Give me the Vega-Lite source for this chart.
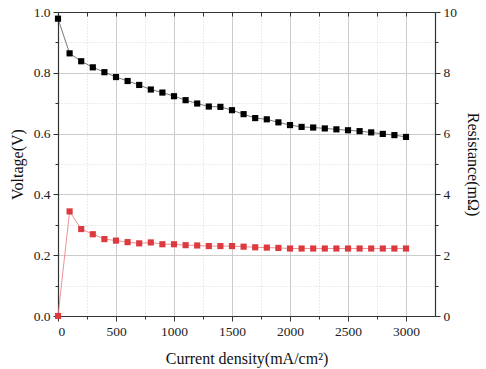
{
  "$schema": "https://vega.github.io/schema/vega-lite/v6.json",
  "width": 377,
  "height": 304,
  "autosize": {"type": "none"},
  "padding": {"left": 58, "top": 12, "right": 51, "bottom": 53},
  "background": "white",
  "config": {
    "view": {"stroke": null},
    "axis": {
      "labelFont": "Liberation Serif",
      "titleFont": "Liberation Serif",
      "labelFontSize": 13.5,
      "titleFontSize": 16,
      "titleFontWeight": "normal",
      "labelColor": "#222",
      "titleColor": "#111",
      "domainColor": "#333",
      "tickColor": "#333",
      "domainWidth": 1.2,
      "tickWidth": 1
    }
  },
  "data": {
    "values": [
      {"j": 0, "V": 0.978, "R": 0.0},
      {"j": 100, "V": 0.864, "R": 3.44},
      {"j": 200, "V": 0.838, "R": 2.86},
      {"j": 300, "V": 0.818, "R": 2.69},
      {"j": 400, "V": 0.802, "R": 2.53},
      {"j": 500, "V": 0.786, "R": 2.48},
      {"j": 600, "V": 0.773, "R": 2.43},
      {"j": 700, "V": 0.760, "R": 2.39},
      {"j": 800, "V": 0.745, "R": 2.42},
      {"j": 900, "V": 0.735, "R": 2.36},
      {"j": 1000, "V": 0.723, "R": 2.36},
      {"j": 1100, "V": 0.710, "R": 2.33},
      {"j": 1200, "V": 0.699, "R": 2.32},
      {"j": 1300, "V": 0.689, "R": 2.30},
      {"j": 1400, "V": 0.688, "R": 2.30},
      {"j": 1500, "V": 0.677, "R": 2.30},
      {"j": 1600, "V": 0.664, "R": 2.28},
      {"j": 1700, "V": 0.651, "R": 2.26},
      {"j": 1800, "V": 0.647, "R": 2.25},
      {"j": 1900, "V": 0.637, "R": 2.24},
      {"j": 2000, "V": 0.628, "R": 2.22},
      {"j": 2100, "V": 0.622, "R": 2.22},
      {"j": 2200, "V": 0.620, "R": 2.22},
      {"j": 2300, "V": 0.617, "R": 2.22},
      {"j": 2400, "V": 0.614, "R": 2.22},
      {"j": 2500, "V": 0.611, "R": 2.22},
      {"j": 2600, "V": 0.608, "R": 2.22},
      {"j": 2700, "V": 0.604, "R": 2.22},
      {"j": 2800, "V": 0.599, "R": 2.22},
      {"j": 2900, "V": 0.595, "R": 2.22},
      {"j": 3000, "V": 0.589, "R": 2.22}
    ]
  },
  "layer": [
    {
      "encoding": {
        "x": {
          "field": "j", "type": "quantitative",
          "scale": {"domain": [0, 3250], "nice": false, "zero": false},
          "axis": {
            "orient": "bottom",
            "title": "Current density(mA/cm²)",
            "titlePadding": 13,
            "values": [0, 250, 500, 750, 1000, 1250, 1500, 1750, 2000, 2250, 2500, 2750, 3000],
            "format": "d",
            "labelExpr": "datum.value % 500 === 0 ? datum.label : ''",
            "tickSize": {"condition": {"test": "datum.value % 500 === 0", "value": 5}, "value": 3},
            "grid": true,
            "gridColor": {"condition": {"test": "datum.value % 500 === 0", "value": "#cccccc"}, "value": "#d8d8d8"},
            "gridDash": {"condition": {"test": "datum.value % 500 === 0", "value": []}, "value": [1, 2]},
            "gridWidth": 1,
            "labelPadding": 3
          }
        },
        "y": {
          "field": "V", "type": "quantitative",
          "scale": {"domain": [0, 1], "nice": false},
          "axis": {
            "orient": "left",
            "title": "Voltage(V)",
            "titlePadding": 8,
            "values": [0, 0.1, 0.2, 0.3, 0.4, 0.5, 0.6, 0.7, 0.8, 0.9, 1.0],
            "format": ".1f",
            "labelExpr": "round(datum.value * 10) % 2 === 0 ? datum.label : ''",
            "tickSize": {"condition": {"test": "round(datum.value * 10) % 2 === 0", "value": 5}, "value": 3},
            "grid": true,
            "gridColor": {"condition": {"test": "round(datum.value * 10) % 2 === 0", "value": "#cccccc"}, "value": "#d8d8d8"},
            "gridDash": {"condition": {"test": "round(datum.value * 10) % 2 === 0", "value": []}, "value": [1, 2]},
            "labelPadding": 3
          }
        }
      },
      "layer": [
        {"mark": {"type": "line", "color": "#555555", "strokeWidth": 0.8}},
        {"mark": {"type": "point", "shape": "square", "filled": true, "color": "#000000", "size": 38, "opacity": 1}}
      ]
    },
    {
      "encoding": {
        "x": {
          "field": "j", "type": "quantitative",
          "scale": {"domain": [0, 3250], "nice": false, "zero": false},
          "axis": {
            "orient": "top",
            "title": null,
            "labels": false,
            "grid": false,
            "values": [0, 250, 500, 750, 1000, 1250, 1500, 1750, 2000, 2250, 2500, 2750, 3000],
            "tickSize": -4
          }
        },
        "y": {
          "field": "R", "type": "quantitative",
          "scale": {"domain": [0, 10], "nice": false},
          "axis": {
            "orient": "right",
            "title": "Resistance(mΩ)",
            "titlePadding": 8,
            "values": [0, 1, 2, 3, 4, 5, 6, 7, 8, 9, 10],
            "format": "d",
            "labelExpr": "datum.value % 2 === 0 ? datum.label : ''",
            "tickSize": {"condition": {"test": "datum.value % 2 === 0", "value": 5}, "value": 3},
            "grid": false,
            "labelPadding": 3
          }
        }
      },
      "layer": [
        {"mark": {"type": "line", "color": "#e8767a", "strokeWidth": 0.8}},
        {"mark": {"type": "point", "shape": "square", "filled": true, "color": "#dd3a40", "size": 38, "opacity": 1}}
      ]
    }
  ],
  "resolve": {"scale": {"y": "independent"}, "axis": {"x": "independent"}}
}
